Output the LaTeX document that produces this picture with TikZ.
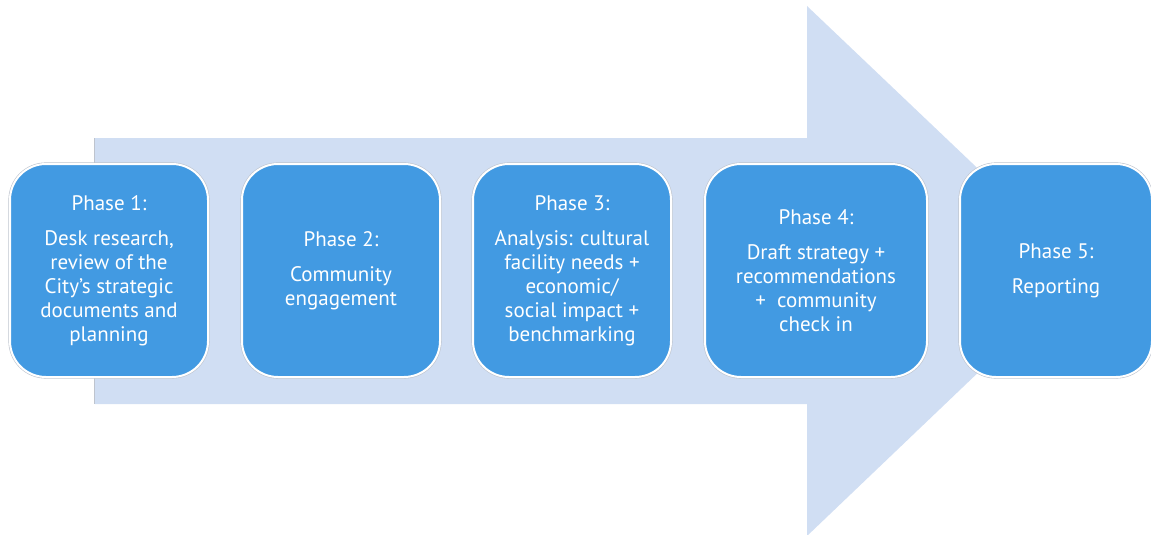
\documentclass[tikz,border=0pt]{standalone}
\usepackage{fontspec}
\setmainfont{PT Sans}
\usetikzlibrary{positioning}
\definecolor{arrowblue}{RGB}{208,222,243}
\definecolor{phaseblue}{RGB}{66,154,226}
\definecolor{edgegray}{RGB}{190,196,206}

\begin{document}
\begin{tikzpicture}[x=1pt, y=-1pt,
    phasebox/.style={rectangle, rounded corners=36pt, fill=phaseblue, draw=white, line width=2pt,
        preaction={draw=edgegray, line width=3.2pt},
        text=white, align=center, inner sep=0pt, minimum height=213pt,
        font=\fontsize{21}{24}\selectfont}]
    \useasboundingbox (0,0) rectangle (1151,535);

    % Big arrow
    \fill[edgegray] (94,138) rectangle (96,404);
    \fill[arrowblue] (95,138) -- (807,138) -- (807,6) -- (1085,270.5)
        -- (807,536) -- (807,404) -- (95,404) -- cycle;

    % Phases
    \node[phasebox, minimum width=198pt] (p1) at (109,270.5)
        {Phase 1:\\[11pt]Desk research,\\review of the\\City's strategic\\documents and\\planning};
    \node[phasebox, minimum width=198pt] (p2) at (341,270.5)
        {Phase 2:\\[11pt]Community\\engagement};
    \node[phasebox, minimum width=198pt] (p3) at (572,270.5)
        {Phase 3:\\[11pt]Analysis: cultural\\facility needs +\\economic/\\social impact +\\benchmarking};
    \node[phasebox, minimum width=222pt] (p4) at (816,270.5)
        {Phase 4:\\[11pt]Draft strategy +\\recommendations\\+\ \ community\\check in};
    \node[phasebox, minimum width=192pt] (p5) at (1056,270.5)
        {Phase 5:\\[11pt]Reporting};
\end{tikzpicture}
\end{document}
